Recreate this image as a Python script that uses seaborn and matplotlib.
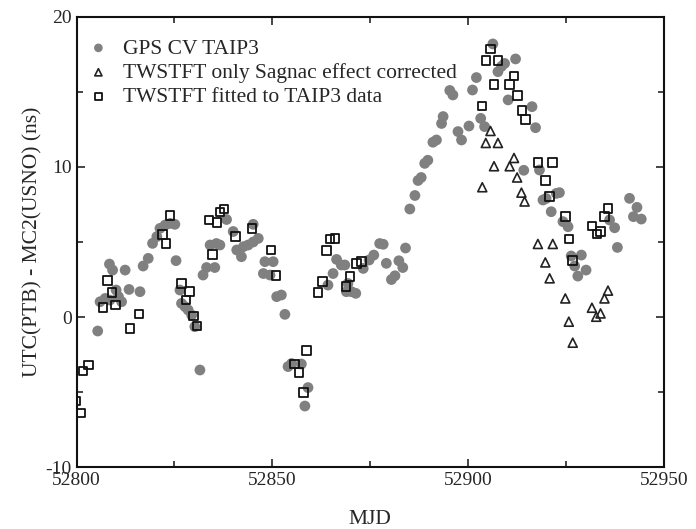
import numpy as np
import pandas as pd
import matplotlib
matplotlib.use("Agg")
import matplotlib.pyplot as plt
import seaborn as sns
from matplotlib.ticker import MultipleLocator

# GPS CV TAIP3 (grey filled circles)
gps_mjd = [
    52805.4, 52806.0, 52807.3, 52808.4, 52808.5, 52809.2, 52810.1, 52810.7,
    52811.5, 52812.4, 52813.4, 52816.2, 52817.0, 52818.3, 52819.4, 52820.5,
    52821.3, 52822.6, 52823.9, 52825.1, 52825.4, 52826.4, 52826.8, 52827.7,
    52828.5, 52829.4, 52830.2, 52831.5, 52832.3, 52833.2, 52834.1, 52835.3,
    52835.7, 52836.6, 52838.3, 52840.0, 52840.9, 52842.1, 52842.6, 52843.8,
    52845.1, 52845.1, 52846.4, 52847.7, 52848.1, 52849.4, 52850.2, 52851.1,
    52852.3, 52853.2, 52854.0, 52854.9, 52857.4, 52858.3, 52859.1, 52864.2,
    52865.5, 52866.4, 52867.6, 52868.5, 52868.9, 52869.3, 52870.2, 52871.3,
    52873.2, 52874.7, 52875.9, 52877.4, 52878.3, 52879.1, 52880.4, 52881.3,
    52882.3, 52883.3, 52884.0, 52885.1, 52886.4, 52887.2, 52888.0, 52888.9,
    52889.7, 52891.0, 52891.9, 52893.2, 52893.6, 52895.3, 52896.1, 52897.4,
    52898.3, 52900.2, 52901.1, 52902.1, 52903.2, 52904.2, 52906.3, 52907.6,
    52908.5, 52909.3, 52910.2, 52912.1, 52914.2, 52916.3, 52917.2, 52918.2,
    52919.1, 52919.9, 52921.2, 52922.5, 52923.3, 52924.2, 52925.5, 52926.3,
    52927.2, 52928.0, 52928.9, 52930.1, 52936.1, 52937.4, 52938.1, 52941.2,
    52942.2, 52943.1, 52944.2,
]
gps_ns = [
    -0.93, 1.02, 1.24, 3.53, 1.13, 3.13, 1.80, 1.36,
    1.02, 3.13, 1.84, 1.69, 3.40, 3.91, 4.91, 5.36,
    5.91, 6.13, 6.24, 6.18, 3.76, 1.80, 0.91, 0.69,
    0.47, 0.13, -0.64, -3.53, 2.80, 3.30, 4.80, 3.30,
    4.90, 4.80, 6.50, 5.70, 4.47, 4.02, 4.69, 4.80,
    5.00, 6.18, 5.24, 2.90, 3.69, 2.80, 3.69, 1.36,
    1.47, 0.18, -3.30, -3.10, -3.13, -5.93, -4.70, 2.13,
    2.90, 3.84, 3.47, 3.47, 1.69, 2.24, 1.69, 1.58,
    3.24, 3.80, 4.13, 4.90, 4.85, 3.58, 2.50, 2.75,
    3.75, 3.30, 4.60, 7.20, 8.10, 9.10, 9.30, 10.24,
    10.45, 11.65, 11.80, 12.90, 13.36, 15.10, 14.80, 12.36,
    11.80, 12.73, 15.13, 15.96, 13.24, 12.69, 18.20, 16.35,
    16.70, 16.90, 14.47, 17.20, 9.78, 14.02, 12.62, 9.80,
    7.80, 7.90, 7.02, 8.24, 8.29, 6.36, 6.02, 4.07,
    3.40, 2.73, 4.13, 3.13, 6.47, 5.95, 4.64, 7.91,
    6.69, 7.31, 6.53,
]

# TWSTFT, only Sagnac effect corrected (open triangles)
sagnac_mjd = [
    52903.6, 52904.5, 52905.7, 52906.6, 52907.6, 52910.6, 52911.7, 52912.5,
    52913.6, 52914.4, 52917.8, 52919.7, 52920.8, 52921.6, 52924.8, 52925.7,
    52926.7, 52931.6, 52932.7, 52933.8, 52934.8, 52935.7,
]
sagnac_ns = [
    8.65, 11.6, 12.4, 10.05, 11.6, 10.05, 10.6, 9.3,
    8.29, 7.7, 4.87, 3.64, 2.58, 4.87, 1.24, -0.31,
    -1.71, 0.62, 0.02, 0.24, 1.24, 1.76,
]

# TWSTFT fitted to TAIP3 data (open squares)
fitted_mjd = [
    52799.9, 52801.0, 52801.7, 52803.0, 52806.7, 52807.9, 52809.0, 52810.0,
    52813.6, 52815.9, 52821.9, 52822.8, 52823.9, 52826.8, 52827.9, 52828.8,
    52829.8, 52830.8, 52833.8, 52834.7, 52835.9, 52836.6, 52837.7, 52840.6,
    52844.8, 52849.6, 52850.9, 52855.7, 52856.8, 52857.9, 52858.7, 52861.7,
    52862.8, 52863.8, 52864.7, 52866.0, 52868.8, 52869.8, 52871.5, 52872.8,
    52903.5, 52904.6, 52905.7, 52906.6, 52907.6, 52910.6, 52911.7, 52912.6,
    52913.7, 52914.7, 52917.8, 52919.7, 52920.8, 52921.6, 52924.8, 52925.7,
    52926.7, 52931.6, 52932.9, 52933.8, 52934.8, 52935.7,
]
fitted_ns = [
    -5.6, -6.4, -3.6, -3.2, 0.62, 2.42, 1.62, 0.80,
    -0.76, 0.20, 5.50, 4.90, 6.75, 2.24, 1.13, 1.69,
    0.07, -0.60, 6.47, 4.18, 6.29, 7.00, 7.20, 5.35,
    5.91, 4.47, 2.76, -3.13, -3.69, -5.02, -2.24, 1.62,
    2.36, 4.42, 5.20, 5.24, 2.02, 2.69, 3.58, 3.69,
    14.07, 17.1, 17.85, 15.5, 17.1, 15.5, 16.07, 14.76,
    13.76, 13.18, 10.31, 9.09, 8.02, 10.31, 6.69, 5.20,
    3.76, 6.07, 5.53, 5.71, 6.69, 7.24,
]

sns.set_style("ticks")
plt.rcParams['font.family'] = ['Liberation Serif', 'DejaVu Serif']
plt.rcParams['axes.unicode_minus'] = False
plt.rcParams['xtick.direction'] = 'in'
plt.rcParams['ytick.direction'] = 'in'

gps = pd.DataFrame({'mjd': gps_mjd, 'ns': gps_ns})
sagnac = pd.DataFrame({'mjd': sagnac_mjd, 'ns': sagnac_ns})
fitted = pd.DataFrame({'mjd': fitted_mjd, 'ns': fitted_ns})

fig = plt.figure(figsize=(6.96, 5.29), dpi=100)
ax = fig.add_axes([0.110, 0.117, 0.844, 0.851])

sns.scatterplot(data=gps, x='mjd', y='ns', ax=ax, marker='o', s=60,
                color='#808080', edgecolor='none', label='GPS CV TAIP3')
sns.scatterplot(data=sagnac, x='mjd', y='ns', ax=ax, marker='^', s=42,
                facecolor='none', edgecolor='#222222', linewidth=1.2,
                label='TWSTFT only Sagnac effect corrected')
sns.scatterplot(data=fitted, x='mjd', y='ns', ax=ax, marker='s', s=38,
                facecolor='none', edgecolor='#111111', linewidth=1.3,
                label='TWSTFT fitted to TAIP3 data')

ax.set_xlim(52800, 52950)
ax.set_ylim(-10, 20)
ax.xaxis.set_major_locator(MultipleLocator(50))
ax.xaxis.set_minor_locator(MultipleLocator(25))
ax.yaxis.set_major_locator(MultipleLocator(10))
ax.yaxis.set_minor_locator(MultipleLocator(5))
ax.tick_params(which='both', top=True, right=True, labelsize=14, width=1.2)
ax.tick_params(which='major', length=6)
ax.tick_params(which='minor', length=4)
for sp in ax.spines.values():
    sp.set_linewidth(1.5)
    sp.set_color('#111111')

ax.set_xlabel('MJD', fontsize=15.5, labelpad=15)
ax.set_ylabel('UTC(PTB) - MC2(USNO) (ns)', fontsize=15.5, labelpad=2)

leg = ax.legend(loc='upper left', bbox_to_anchor=(-0.016, 1.0), frameon=False,
                fontsize=15.5, handletextpad=0.7, borderaxespad=0.6,
                labelspacing=0.2, handlelength=0.9, markerscale=0.8)

fig.savefig('out.png', dpi=100)
